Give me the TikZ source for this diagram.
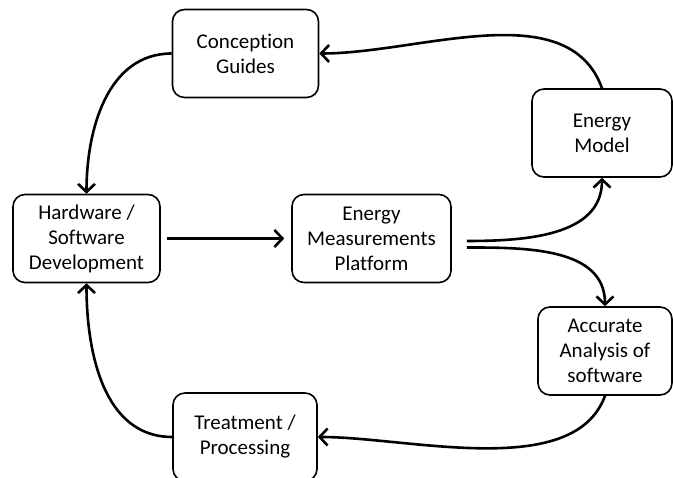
\documentclass[tikz,border=0pt]{standalone}
\usepackage{fontspec}
\setmainfont[Ligatures=CommonOff]{Carlito}
\usetikzlibrary{arrows.meta,positioning}

\tikzstyle{process} = [
    rectangle, rounded corners=12pt,
    minimum width=146pt, minimum height=88pt,
    align=center, draw=black, line width=1.6pt,
    inner sep=0pt, font=\fontsize{21}{25}\selectfont
]
\tikzstyle{arrow} = [line width=2.6pt,-{Straight Barb[length=8pt,width=17pt]}]

\begin{document}
\begin{tikzpicture}[x=1pt,y=1pt,node distance=285pt]
    \useasboundingbox (0,0) rectangle (673,478);

    \node (hwdev) [process, minimum width=147pt] at (86.5,239.5) {Hardware /\\Software\\Development};
    \node (platform) [process, minimum width=159pt, right of=hwdev] {Energy\\Measurements\\Platform};
    \node (guides) [process] at (245.5,424.5) {Conception\\Guides};
    \node (model) [process, minimum width=140pt] at (602,345) {Energy\\Model};
    \node (analysis) [process, minimum width=134pt] at (605,127) {Accurate\\Analysis of\\software};
    \node (treat) [process, minimum width=144pt] at (245,41) {Treatment /\\Processing};

    \coordinate (upout) at ([xshift=15pt,yshift=-2.5pt]platform.east);
    \coordinate (downout) at ([xshift=15pt,yshift=-9pt]platform.east);

    \draw [arrow, shorten >=7pt, shorten <=6pt] (hwdev) -- (platform);
    \draw [arrow] (upout) to[out=0, in=-90] (model.south);
    \draw [arrow] (downout) to[out=0, in=90] (analysis.north);
    \draw [arrow] (model.north) to[out=110, in=0, looseness=0.9] (guides.east);
    \draw [arrow] (guides.west) to[out=180, in=90] (hwdev.north);
    \draw [arrow] (analysis.south) to[out=-110, in=0, looseness=0.8] (treat.east);
    \draw [arrow] (treat.west) to[out=180, in=-90] (hwdev.south);
\end{tikzpicture}
\end{document}
